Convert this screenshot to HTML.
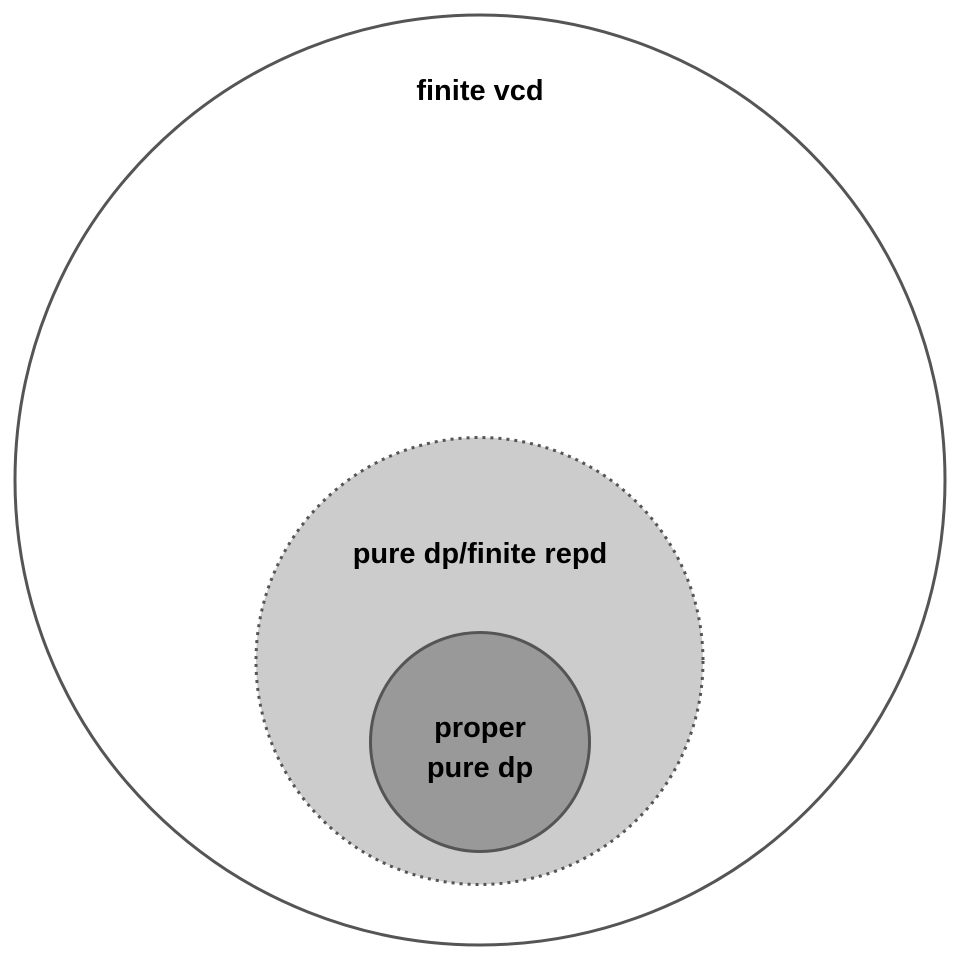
<!DOCTYPE html>
<html>
<head>
<meta charset="utf-8">
<style>
  html, body { margin: 0; padding: 0; background: #fff; }
  svg { display: block; }
  text { font-family: "Liberation Sans", sans-serif; font-weight: bold; font-size: 29px; fill: #000; text-anchor: middle; }
</style>
</head>
<body>
<svg width="960" height="960" viewBox="0 0 960 960">
  <circle cx="480" cy="480" r="465" fill="#fff" stroke="#555" stroke-width="3"/>
  <text x="480" y="100">finite vcd</text>
  <circle cx="479.5" cy="661" r="223.5" fill="#cccccc" stroke="#555" stroke-width="3" stroke-dasharray="3 5"/>
  <text x="480" y="563">pure dp/finite repd</text>
  <circle cx="480" cy="742" r="109.5" fill="#999999" stroke="#555" stroke-width="3"/>
  <text x="480" y="737">proper</text>
  <text x="480" y="777">pure dp</text>
</svg>
</body>
</html>
